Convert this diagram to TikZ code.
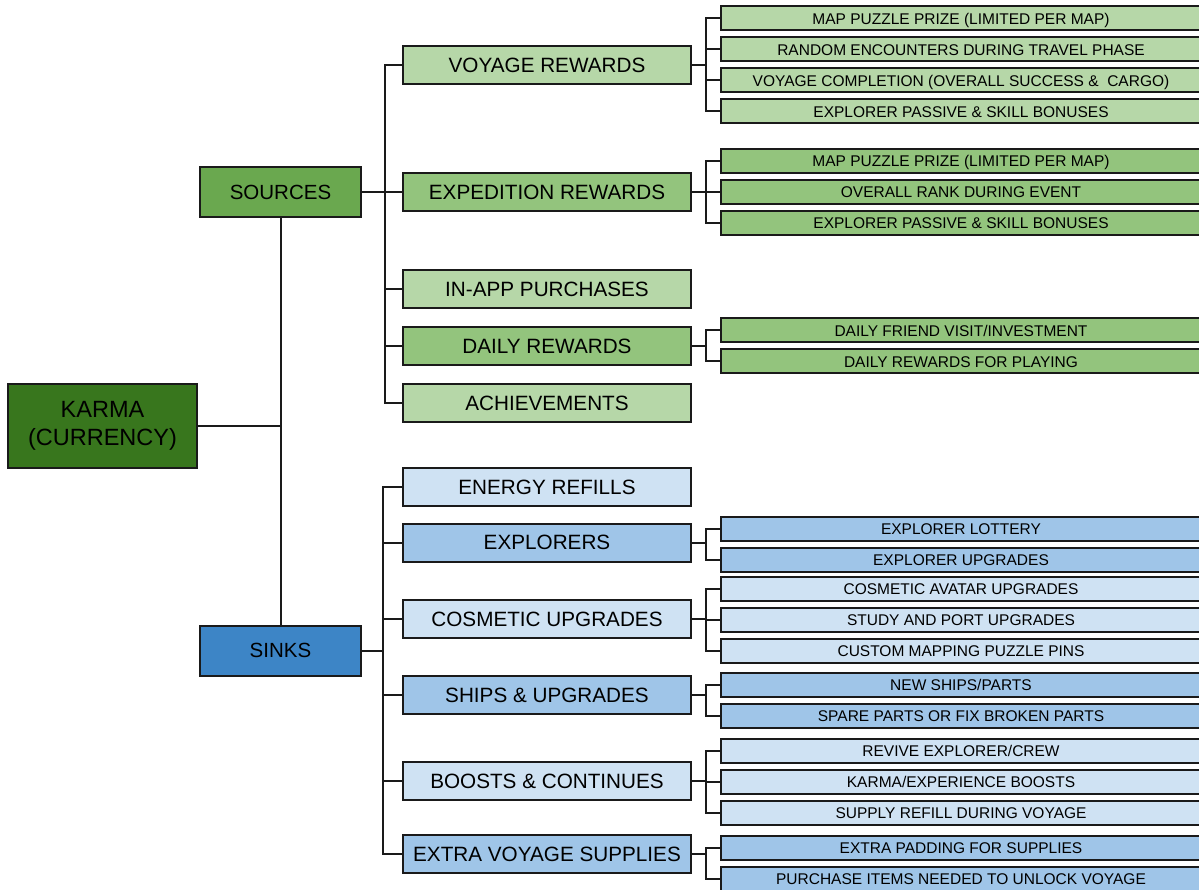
\documentclass[tikz,border=0pt]{standalone}
\usepackage{fontspec}
\setmainfont{Liberation Sans}
\definecolor{kg}{HTML}{38761D}
\definecolor{sg}{HTML}{6AA84F}
\definecolor{mg}{HTML}{93C47D}
\definecolor{lg}{HTML}{B6D7A8}
\definecolor{sb}{HTML}{3D85C6}
\definecolor{mb}{HTML}{9FC5E8}
\definecolor{lb}{HTML}{CFE2F3}
\definecolor{ink}{HTML}{1A1A1A}
\begin{document}
\begin{tikzpicture}[x=1pt,y=-1pt,
 box/.style={draw=ink, line width=2pt, inner sep=0pt, align=center, text=black},
 topbox/.style={box, minimum width=189pt, minimum height=84pt, font=\fontsize{23.5}{28}\selectfont},
 lvlone/.style={box, minimum width=161pt, minimum height=50pt, font=\fontsize{20.5}{24}\selectfont, text height=14.7pt, text depth=0pt},
 lvltwo/.style={box, minimum width=288pt, minimum height=38pt, font=\fontsize{20.7}{24}\selectfont, text height=14.8pt, text depth=0pt},
 lvlthree/.style={box, minimum width=480pt, minimum height=24pt, font=\fontsize{15.5}{18}\selectfont, text height=11.1pt, text depth=0pt},
 conn/.style={line width=2pt, draw=ink}]
\useasboundingbox[fill=white] (0,0) rectangle (1199,890);

% level 0 / 1
\node[topbox, fill=kg] (karma) at (102.5,426) {KARMA\\(CURRENCY)};
\node[lvlone, fill=sg] (src) at (280.5,192) {SOURCES};
\node[lvlone, fill=sb] (snk) at (280.5,650.5) {SINKS};

% level 2 sources
\node[lvltwo, fill=lg] (vr) at (547,65) {VOYAGE REWARDS};
\node[lvltwo, fill=mg] (er) at (547,192) {EXPEDITION REWARDS};
\node[lvltwo, fill=lg] (iap) at (547,289) {IN-APP PURCHASES};
\node[lvltwo, fill=mg] (dr) at (547,346) {DAILY REWARDS};
\node[lvltwo, fill=lg] (ach) at (547,403) {ACHIEVEMENTS};

% level 2 sinks
\node[lvltwo, fill=lb] (en) at (547,487) {ENERGY REFILLS};
\node[lvltwo, fill=mb] (ex) at (547,542.5) {EXPLORERS};
\node[lvltwo, fill=lb] (co) at (547,619) {COSMETIC UPGRADES};
\node[lvltwo, fill=mb] (sh) at (547,695) {SHIPS \& UPGRADES};
\node[lvltwo, fill=lb] (bo) at (547,781) {BOOSTS \& CONTINUES};
\node[lvltwo, fill=mb] (xs) at (547,854) {EXTRA VOYAGE SUPPLIES};

% level 3
\node[lvlthree, fill=lg] (v1) at (961,18.5) {MAP PUZZLE PRIZE (LIMITED PER MAP)};
\node[lvlthree, fill=lg] (v2) at (961,49.5) {RANDOM ENCOUNTERS DURING TRAVEL PHASE};
\node[lvlthree, fill=lg] (v3) at (961,80.5) {VOYAGE COMPLETION (OVERALL SUCCESS \&\ \ CARGO)};
\node[lvlthree, fill=lg] (v4) at (961,111.5) {EXPLORER PASSIVE \& SKILL BONUSES};

\node[lvlthree, fill=mg] (e1) at (961,161) {MAP PUZZLE PRIZE (LIMITED PER MAP)};
\node[lvlthree, fill=mg] (e2) at (961,192) {OVERALL RANK DURING EVENT};
\node[lvlthree, fill=mg] (e3) at (961,223) {EXPLORER PASSIVE \& SKILL BONUSES};

\node[lvlthree, fill=mg] (d1) at (961,330.5) {DAILY FRIEND VISIT/INVESTMENT};
\node[lvlthree, fill=mg] (d2) at (961,361.5) {DAILY REWARDS FOR PLAYING};

\node[lvlthree, fill=mb] (x1) at (961,528.5) {EXPLORER LOTTERY};
\node[lvlthree, fill=mb] (x2) at (961,559.5) {EXPLORER UPGRADES};

\node[lvlthree, fill=lb] (c1) at (961,588.5) {COSMETIC AVATAR UPGRADES};
\node[lvlthree, fill=lb] (c2) at (961,619.5) {STUDY AND PORT UPGRADES};
\node[lvlthree, fill=lb] (c3) at (961,650.5) {CUSTOM MAPPING PUZZLE PINS};

\node[lvlthree, fill=mb] (s1) at (961,685) {NEW SHIPS/PARTS};
\node[lvlthree, fill=mb] (s2) at (961,716) {SPARE PARTS OR FIX BROKEN PARTS};

\node[lvlthree, fill=lb] (b1) at (961,750.5) {REVIVE EXPLORER/CREW};
\node[lvlthree, fill=lb] (b2) at (961,781.5) {KARMA/EXPERIENCE BOOSTS};
\node[lvlthree, fill=lb] (b3) at (961,812.5) {SUPPLY REFILL DURING VOYAGE};

\node[lvlthree, fill=mb] (p1) at (961,847.5) {EXTRA PADDING FOR SUPPLIES};
\node[lvlthree, fill=mb] (p2) at (961,878.5) {PURCHASE ITEMS NEEDED TO UNLOCK VOYAGE};

% bracket x positions
\coordinate (bs) at (385,0);
\coordinate (bk) at (383,0);
\coordinate (bt) at (706,0);

% trunk
\draw[conn] (karma.east) -- (karma.east -| src.south);
\draw[conn] (src.south) -- (snk.north);

% sources bracket
\draw[conn] (src.east) -- (src.east -| bs);
\draw[conn] (vr.west) -| (bs |- ach.west) -- (ach.west);
\foreach \c in {er,iap,dr} {\draw[conn] (\c.west) -- (\c.west -| bs);}

% sinks bracket
\draw[conn] (snk.east) -- (snk.east -| bk);
\draw[conn] (en.west) -| (bk |- xs.west) -- (xs.west);
\foreach \c in {ex,co,sh,bo} {\draw[conn] (\c.west) -- (\c.west -| bk);}

% level 3 brackets
\draw[conn] (vr.east) -- (vr.east -| bt);
\draw[conn] (v1.west) -| (bt |- v4.west) -- (v4.west);
\foreach \c in {v2,v3} {\draw[conn] (\c.west) -- (\c.west -| bt);}

\draw[conn] (er.east) -- (er.east -| bt);
\draw[conn] (e1.west) -| (bt |- e3.west) -- (e3.west);
\draw[conn] (e2.west) -- (e2.west -| bt);

\draw[conn] (dr.east) -- (dr.east -| bt);
\draw[conn] (d1.west) -| (bt |- d2.west) -- (d2.west);

\draw[conn] (ex.east) -- (ex.east -| bt);
\draw[conn] (x1.west) -| (bt |- x2.west) -- (x2.west);

\draw[conn] (co.east) -- (co.east -| bt);
\draw[conn] (c1.west) -| (bt |- c3.west) -- (c3.west);
\draw[conn] (c2.west) -- (c2.west -| bt);

\draw[conn] (sh.east) -- (sh.east -| bt);
\draw[conn] (s1.west) -| (bt |- s2.west) -- (s2.west);

\draw[conn] (bo.east) -- (bo.east -| bt);
\draw[conn] (b1.west) -| (bt |- b3.west) -- (b3.west);
\draw[conn] (b2.west) -- (b2.west -| bt);

\draw[conn] (xs.east) -- (xs.east -| bt);
\draw[conn] (p1.west) -| (bt |- p2.west) -- (p2.west);
\end{tikzpicture}
\end{document}
